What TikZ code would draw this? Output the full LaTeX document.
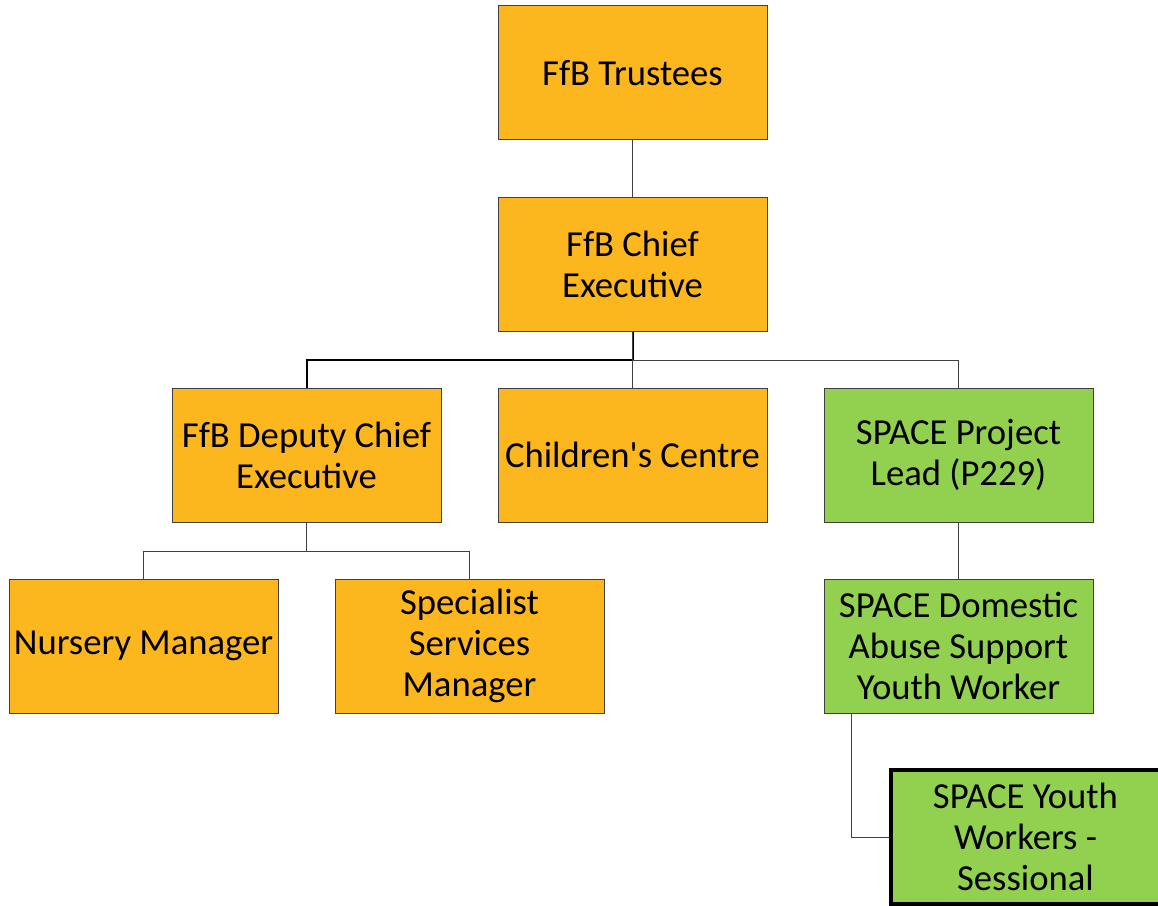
\documentclass[tikz,border=0pt]{standalone}
\usepackage{fontspec}
\setmainfont{Carlito}
\usetikzlibrary{arrows}

\definecolor{ffborange}{HTML}{FDB71E}
\definecolor{spacegreen}{HTML}{92D050}
\definecolor{linegray}{HTML}{404040}

\begin{document}
\begin{tikzpicture}[x=0.75pt,y=-0.75pt,node distance=143.25pt,
                    main node/.style={rectangle,draw=linegray,line width=0.75pt,
                      fill=ffborange,minimum width=201.75pt,minimum height=100.5pt,
                      inner sep=1pt,align=center,font=\fontsize{27.5}{30.75}\selectfont},
                    space node/.style={main node,fill=spacegreen},
                    link/.style={draw=linegray,line width=0.75pt}]
  \useasboundingbox (0,0) rectangle (1158,906);
  \node[main node] (trustees) at (632.5,73) {FfB Trustees};
  \node[main node] (chief) [below of=trustees] {FfB Chief\\Executive};
  \node[main node] (centre) [below of=chief] {Children\textquotesingle s Centre};
  \node[main node] (deputy) [left of=centre,node distance=244.5pt] {FfB Deputy Chief\\Executive};
  \node[space node] (lead) [right of=centre,node distance=244.5pt] {SPACE Project\\Lead (P229)};
  \node[main node] (nursery) [below of=deputy,xshift=-122.25pt] {Nursery Manager};
  \node[main node] (specialist) [below of=deputy,xshift=122.25pt] {Specialist\\Services\\Manager};
  \node[space node] (domestic) [below of=lead] {SPACE Domestic\\Abuse Support\\Youth Worker};
  \node[space node,draw=black,line width=3pt] (sessional) [below of=domestic,xshift=50.25pt] {SPACE Youth\\Workers -\\Sessional};

  % reporting lines
  \path[link] (trustees) -- (chief);
  \draw[black,line width=1.5pt] (chief.south) -- ++(0,-21.4pt) -| (deputy.north);
  \path[link] (chief.south) -- (centre.north);
  \path[link] (chief.south) -- ++(0,-21.4pt) -| (lead.north);
  \path[link] (deputy.south) -- ++(0,-21.4pt) -| (nursery.north);
  \path[link] (deputy.south) -- ++(0,-21.4pt) -| (specialist.north);
  \path[link] (lead) -- (domestic);
  \path[link] ([xshift=-80.25pt]domestic.south) |- (sessional.west);
\end{tikzpicture}
\end{document}
